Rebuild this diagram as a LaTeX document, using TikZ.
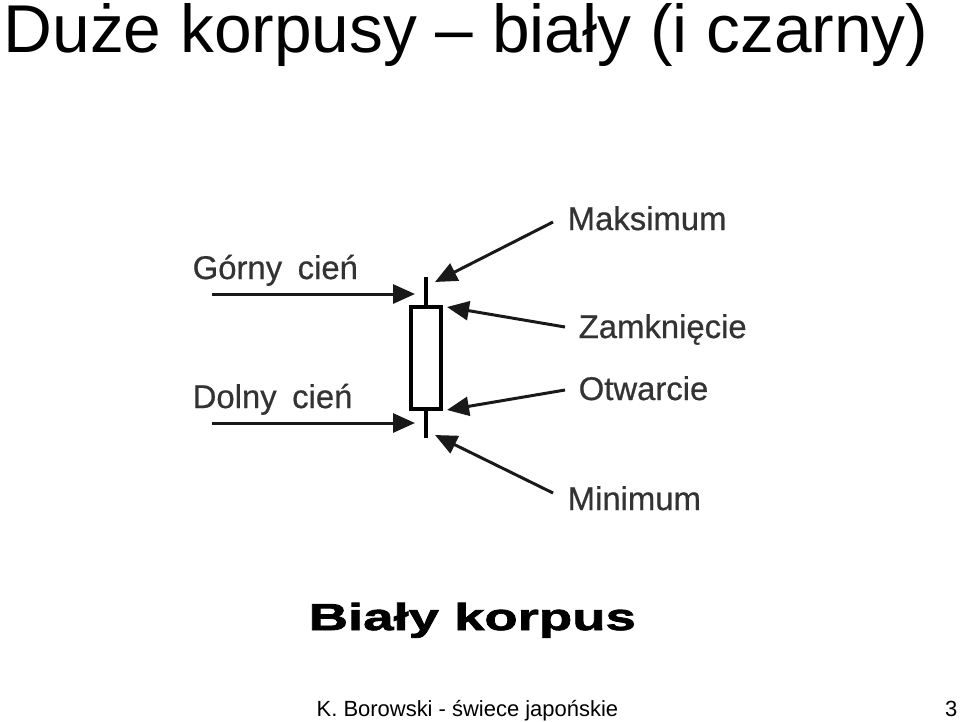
\documentclass[tikz,border=0pt]{standalone}
\usepackage{fontspec}
\setmainfont{Liberation Sans}
\newfontfamily\widefont[FakeStretch=1.45,FakeBold=2]{Liberation Sans}
\newfontfamily\partfont[WordSpace=1.7,FakeBold=0.6]{Liberation Sans}
\usetikzlibrary{arrows.meta}

\begin{document}
\begin{tikzpicture}[x=0.02cm, y=-0.02cm, thick,
    every node/.style={inner sep=0pt, anchor=base west},
    partname/.style={font=\partfont\fontsize{18.7}{20}\selectfont, text=black!80},
    pointer/.style={-{Triangle[length=0.44cm, width=0.38cm]}, line width=1.7pt, black!90}]

    \useasboundingbox (0,0) rectangle (960,721);

    % Node definitions
    \node (title) at (3, 52) [font=\fontsize{38.5}{40}\selectfont] {Duże korpusy – biały (i czarny)};
    \node (author) at (316, 716) [font=\fontsize{12.5}{14}\selectfont] {K. Borowski - świece japońskie};
    \node (page) at (958, 716) [anchor=base east, font=\fontsize{12.5}{14}\selectfont] {3};

    \node (upper) at (192, 279) [partname] {Górny cień};
    \node (lower) at (192, 408) [partname] {Dolny cień};
    \node (max) at (567, 230) [partname] {Maksimum};
    \node (close) at (578, 338) [partname] {Zamknięcie};
    \node (open) at (578, 400) [partname] {Otwarcie};
    \node (min) at (567, 510) [partname] {Minimum};
    \node (caption) at (308, 630) [font=\widefont\bfseries\fontsize{21.4}{24}\selectfont] {Biały korpus};

    % the candle
    \node (body) at (426, 358) [anchor=center, rectangle, draw, line width=2.3pt,
        minimum width=0.6cm, minimum height=2.05cm] {};
    \coordinate (high) at (426, 277);
    \coordinate (low) at (426, 438);
    \draw[line width=2.6pt] (body.north) -- (high);
    \draw[line width=2.6pt] (body.south) -- (low);

    % arrow ends
    \coordinate (upperfrom) at (212, 294);
    \coordinate (upperto) at (415, 294);
    \coordinate (lowerfrom) at (212, 423);
    \coordinate (lowerto) at (415, 423);
    \coordinate (maxfrom) at (553, 222);
    \coordinate (maxto) at (435, 282);
    \coordinate (closefrom) at (565, 327);
    \coordinate (closeto) at (447, 307);
    \coordinate (openfrom) at (565, 390);
    \coordinate (opento) at (447, 410);
    \coordinate (minfrom) at (553, 493);
    \coordinate (minto) at (435, 435);

    % Edge definitions
    \draw[pointer] (upperfrom) -- (upperto);
    \draw[pointer] (lowerfrom) -- (lowerto);
    \draw[pointer] (maxfrom) -- (maxto);
    \draw[pointer] (closefrom) -- (closeto);
    \draw[pointer] (openfrom) -- (opento);
    \draw[pointer] (minfrom) -- (minto);
\end{tikzpicture}
\end{document}
